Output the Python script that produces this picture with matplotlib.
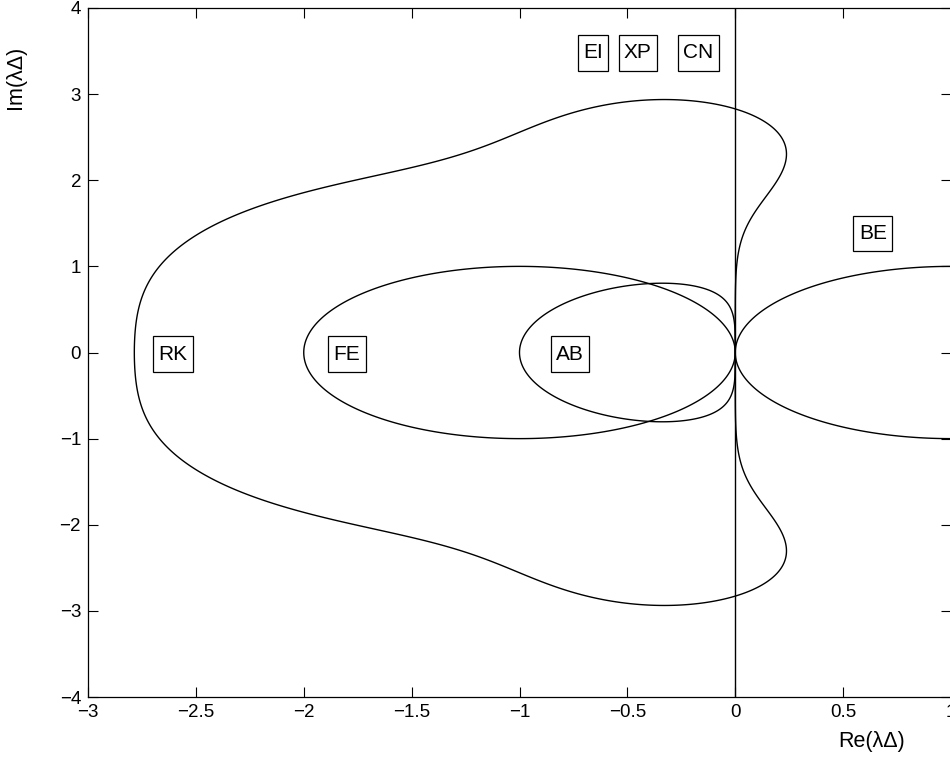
import numpy as np
import matplotlib
matplotlib.use("Agg")
import matplotlib.pyplot as plt
from matplotlib.path import Path

plt.rcParams['font.family'] = ['Liberation Sans', 'DejaVu Sans']

# Amplification factors of the one-step methods (polynomial coefficients, highest power first)
rk4_coeffs = [1 / 24, 1 / 6, 1 / 2, 1, 1]   # classical 4th-order Runge-Kutta
fe_coeffs = [1, 1]                          # forward Euler: R = 1 + z
be_denominator = [-1, 1]                    # backward Euler: R = 1 / (1 - z)
# Adams-Bashforth 2: rho(zeta) - z*sigma(zeta) = 0
ab2_rho = [1, -1, 0]
ab2_sigma = [0, 3 / 2, -1 / 2]

# Method labels and their positions in the complex plane
labels = ["RK", "FE", "AB", "EI", "XP", "CN", "BE"]
label_re = [-2.608, -1.80, -0.766, -0.659, -0.451, -0.17, 0.638]
label_im = [-0.02, -0.02, -0.02, 3.48, 3.48, 3.48, 1.38]

x_ticks = [-3, -2.5, -2, -1.5, -1, -0.5, 0, 0.5, 1]
y_ticks = [-4, -3, -2, -1, 0, 1, 2, 3, 4]


def label_box(x0, y0, width, height, mutation_size):
    """Rectangle around a label, with more room above and below than at the sides."""
    px = 0.26 * mutation_size
    py = 0.40 * mutation_size
    x0, y0 = x0 - px, y0 - py
    x1, y1 = x0 + width + 2 * px, y0 + height + 2 * py
    return Path([(x0, y0), (x1, y0), (x1, y1), (x0, y1), (x0, y0)], closed=True)


fig = plt.figure(figsize=(9.5, 7.59), dpi=100)
ax = fig.add_axes([88 / 950, 1 - 697 / 759, 863 / 950, 689 / 759])

re = np.linspace(-3.2, 1.2, 1400)
im = np.linspace(-4.2, 4.2, 1600)
X, Y = np.meshgrid(re, im)
Z = X + 1j * Y

line_kw = dict(levels=[1.0], colors='black', linewidths=1.0)

# |R(z)| = 1 boundaries of the one-step methods
ax.contour(X, Y, np.abs(np.polyval(rk4_coeffs, Z)), **line_kw)
ax.contour(X, Y, np.abs(np.polyval(fe_coeffs, Z)), **line_kw)
ax.contour(X, Y, np.abs(np.polyval(be_denominator, Z)), **line_kw)

# AB2: largest root modulus of the characteristic polynomial equals one
a = ab2_rho[0] - Z * ab2_sigma[0]
b = ab2_rho[1] - Z * ab2_sigma[1]
c = ab2_rho[2] - Z * ab2_sigma[2]
disc = np.sqrt(b * b - 4 * a * c)
r1 = np.abs((-b + disc) / (2 * a))
r2 = np.abs((-b - disc) / (2 * a))
ax.contour(X, Y, np.maximum(r1, r2), **line_kw)

# Imaginary axis: boundary shared by the implicit, exponential and Crank-Nicolson schemes
ax.axvline(0, color='black', linewidth=1.0)

for name, xr, yi in zip(labels, label_re, label_im):
    ax.text(xr, yi, name, ha='center', va='center', fontsize=15,
            bbox=dict(boxstyle=label_box, facecolor='white',
                      edgecolor='black', linewidth=0.9))

ax.set_xlim(-3, 1)
ax.set_ylim(-4, 4)
ax.set_xticks(x_ticks)
ax.set_yticks(y_ticks)
ax.set_xticklabels([f"{t:g}".replace('-', '\u2212') for t in x_ticks])
ax.set_yticklabels([f"{t:g}".replace('-', '\u2212') for t in y_ticks])
ax.tick_params(direction='in', length=7, width=0.8, labelsize=13.5,
               top=True, right=True, pad=5)
for s in ax.spines.values():
    s.set_linewidth(0.9)

fig.text(872 / 950, 1 - 742 / 759, "Re(\u03bb\u0394)", ha='center', va='center', fontsize=15.5)
fig.text(15 / 950, 1 - 77 / 759, "Im(\u03bb\u0394)", ha='center', va='center',
         fontsize=15.5, rotation=90)

fig.savefig("out.png", dpi=100)
